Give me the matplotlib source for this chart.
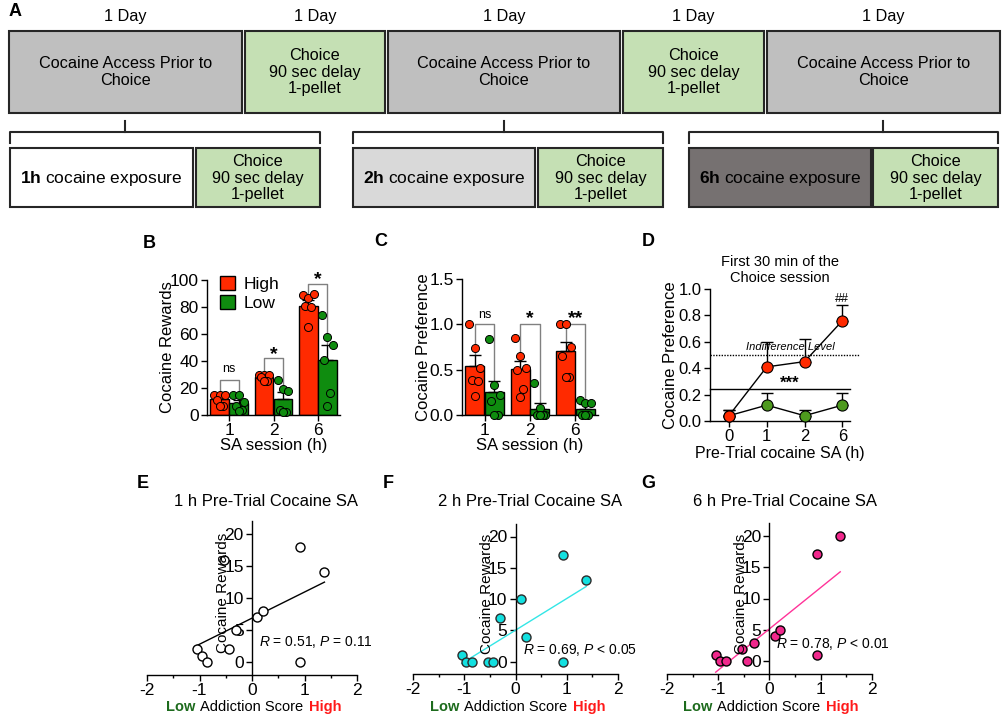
import numpy as np
import matplotlib.pyplot as plt
from matplotlib.patches import Rectangle, Patch
from matplotlib.ticker import MultipleLocator, FormatStrFormatter

plt.rcParams['font.family'] = ['Liberation Sans', 'DejaVu Sans']
plt.rcParams['mathtext.fontset'] = 'custom'
plt.rcParams['mathtext.rm'] = 'Liberation Sans'
plt.rcParams['mathtext.it'] = 'Liberation Sans:italic'
plt.rcParams['mathtext.bf'] = 'Liberation Sans:bold'
plt.rcParams['axes.unicode_minus'] = False
plt.rcParams['axes.linewidth'] = 1.0

RED = '#ff2a00'
GREEN = '#0f8c0f'
OLIVE = '#4e9a1e'
BOX_GRAY = '#bfbfbf'
BOX_GREEN = '#c5e0b4'
EDGE = '#262626'

# ---------------- data ----------------
# panel A: schedule
step_labels = ["Cocaine Access Prior to\nChoice", "Choice\n90 sec delay\n1-pellet",
               "Cocaine Access Prior to\nChoice", "Choice\n90 sec delay\n1-pellet",
               "Cocaine Access Prior to\nChoice"]
step_kind = ["access", "choice", "access", "choice", "access"]
step_duration = "1 Day"
exposure_hours = ["1h", "2h", "6h"]
exposure_fill = ["white", "#d9d9d9", "#767171"]
choice_label = "Choice\n90 sec delay\n1-pellet"

# panel B: cocaine rewards by SA session
sessions = ["1", "2", "6"]
rew_high_mean = [12, 28, 81]
rew_high_sem = [1.5, 1.2, 4.0]
rew_low_mean = [9, 12, 41]
rew_low_sem = [2.0, 5.0, 11.0]
rew_high_pts = [[15, 15, 15, 11, 7, 7], [30, 30, 30, 28, 25, 25], [89, 87, 90, 81, 80, 65]]
rew_low_pts = [[15, 15, 10, 7, 4, 3], [26, 19, 18, 4, 2, 2], [74, 58, 52, 41, 16, 7]]
rew_sig = ["ns", "*", "*"]
rew_sig_y = [26, 42, 97]

# panel C: cocaine preference by SA session
pref_high_mean = [0.54, 0.51, 0.71]
pref_high_sem = [0.12, 0.09, 0.10]
pref_low_mean = [0.25, 0.07, 0.07]
pref_low_sem = [0.12, 0.06, 0.05]
pref_high_pts = [[1.0, 0.735, 0.52, 0.39, 0.37, 0.21], [0.85, 0.65, 0.52, 0.5, 0.29, 0.2],
                 [1.0, 1.0, 0.75, 0.65, 0.42, 0.42]]
pref_low_pts = [[0.84, 0.33, 0.22, 0.15, 0.0, 0.0], [0.35, 0.08, 0.0, 0.0, 0.0, 0.0],
                [0.16, 0.13, 0.13, 0.0, 0.0, 0.0]]
pref_sig = ["ns", "*", "**"]
pref_sig_y = [1.0, 1.0, 1.0]

# panel D: first 30 min preference
pretrial_hours = ["0", "1", "2", "6"]
d_high = [0.04, 0.41, 0.45, 0.76]
d_high_sem = [0.04, 0.19, 0.17, 0.12]
d_low = [0.04, 0.12, 0.04, 0.12]
d_low_sem = [0.04, 0.09, 0.04, 0.09]
indifference = 0.5
group_line = 0.24

# panels E-G: correlations
addiction_score = [-1.05, -0.96, -0.85, -0.54, -0.43, -0.30, 0.10, 0.20, 0.92, 0.92, 1.38]
rewards_1h = [2, 1, 0, 16, 2, 5, 7, 8, 18, 0, 14]
rewards_2h = [1, 0, 0, 0, 0, 7, 10, 4, 17, 0, 13]
rewards_6h = [1, 0, 0, 2, 0, 3, 4, 5, 17, 1, 20]
corr_titles = ["1 h Pre-Trial Cocaine SA", "2 h Pre-Trial Cocaine SA", "6 h Pre-Trial Cocaine SA"]
corr_stats = [r"$\it{R}$ = 0.51, $\it{P}$ = 0.11", r"$\it{R}$ = 0.69, $\it{P}$ < 0.05",
              r"$\it{R}$ = 0.78, $\it{P}$ < 0.01"]

# ---------------- figure ----------------
W, H = 1004, 717
fig = plt.figure(figsize=(W / 100, H / 100), dpi=100)


def px_axes(x0, x1, y_top, y_bot):
    return fig.add_axes([x0 / W, 1 - y_bot / H, (x1 - x0) / W, (y_bot - y_top) / H])


ov = fig.add_axes([0, 0, 1, 1])
ov.set_xlim(0, W)
ov.set_ylim(H, 0)
ov.axis('off')

# panel letters
for lab, x, y in [("A", 15, 12), ("B", 149, 243), ("C", 381, 242), ("D", 648, 242),
                  ("E", 143, 484), ("F", 388, 484), ("G", 648, 484)]:
    ov.text(x, y, lab, fontsize=13, fontweight='bold', ha='center', va='center')

# ---- panel A ----
top_edges = [(9, 242), (245, 385), (388, 620), (623, 764), (767, 1000)]
for (x0, x1), lab, kind in zip(top_edges, step_labels, step_kind):
    fc = BOX_GRAY if kind == "access" else BOX_GREEN
    ov.add_patch(Rectangle((x0, 31), x1 - x0, 82, fc=fc, ec=EDGE, lw=1.5))
    ov.text((x0 + x1) / 2, 72, lab, ha='center', va='center', fontsize=11.7, linespacing=1.15)
    ov.text((x0 + x1) / 2, 17, step_duration, ha='center', va='center', fontsize=11.7)

access_centers = [(x0 + x1) / 2 for (x0, x1), k in zip(top_edges, step_kind) if k == "access"]
groups = [((10, 193), (196, 320)), ((353, 535), (538, 663)), ((689, 871), (873, 998))]
for (ex, ch), hrs, fill, xm in zip(groups, exposure_hours, exposure_fill, access_centers):
    ov.plot([ex[0], ex[0], ch[1], ch[1]], [143, 132, 132, 143], color=EDGE, lw=1.5,
            solid_joinstyle='round')
    ov.plot([xm, xm], [132, 121], color=EDGE, lw=1.5)
    ov.add_patch(Rectangle((ex[0], 148), ex[1] - ex[0], 59, fc=fill, ec=EDGE, lw=1.5))
    ov.add_patch(Rectangle((ch[0], 148), ch[1] - ch[0], 59, fc=BOX_GREEN, ec=EDGE, lw=1.5))
    ov.text((ex[0] + ex[1]) / 2, 178, r"$\bf{" + hrs + "}$ cocaine exposure",
            ha='center', va='center', fontsize=12.5)
    ov.text((ch[0] + ch[1]) / 2, 178, choice_label, ha='center', va='center',
            fontsize=11.7, linespacing=1.12)


# ---- panels B and C ----
jit = [-0.12, 0.0, 0.12, -0.07, 0.07, 0.0]
off, bw = 0.215, 0.42


def style_axes(ax, size=12.5):
    for s in ['top', 'right']:
        ax.spines[s].set_visible(False)
    ax.tick_params(direction='out', length=4, width=1, labelsize=size, pad=2)


def bar_panel(ax, hm, hs, hp, lm, ls, lp, sig, sig_y, ns_off, star_off):
    x = np.arange(len(sessions))
    for sign, m, s, pts, col in [(-1, hm, hs, hp, RED), (1, lm, ls, lp, GREEN)]:
        xs = x + sign * off
        ax.bar(xs, m, bw, color=col, edgecolor='k', lw=1, zorder=2)
        ax.errorbar(xs, m, yerr=[np.zeros(len(m)), s], fmt='none', ecolor='k',
                    elinewidth=1, capsize=4, capthick=1, zorder=3)
        for xi, p in zip(xs, pts):
            ax.plot(xi + np.array(jit[:len(p)]), p, 'o', ms=5.8, mfc=col, mec='k',
                    mew=0.7, zorder=4, clip_on=False)
    for i in range(len(x)):
        y0 = hm[i] + hs[i]
        y1 = lm[i] + ls[i]
        ax.plot([x[i] - off, x[i] - off, x[i] + off, x[i] + off], [y0, sig_y[i], sig_y[i], y1],
                color='#808080', lw=1, zorder=1.5)
        if sig[i] == "ns":
            ax.annotate("ns", (x[i], sig_y[i]), xytext=(0, ns_off), textcoords='offset points',
                        ha='center', va='center', fontsize=9)
        else:
            ax.annotate(sig[i], (x[i], sig_y[i]), xytext=(0, star_off), textcoords='offset points',
                        ha='center', va='center', fontsize=14, fontweight='bold')
    ax.set_xticks(x)
    ax.set_xticklabels(sessions)
    ax.set_xlim(-0.5, 2.5)
    ax.set_xlabel("SA session (h)", fontsize=12, labelpad=0)
    style_axes(ax)


axB = px_axes(207, 340, 280, 415)
bar_panel(axB, rew_high_mean, rew_high_sem, rew_high_pts, rew_low_mean, rew_low_sem,
          rew_low_pts, rew_sig, rew_sig_y, 8, 3)
axB.set_ylim(0, 100)
axB.set_yticks(range(0, 101, 20))
axB.set_ylabel("Cocaine Rewards", fontsize=12)
axB.yaxis.set_label_coords(-0.24, 0.5)
axB.legend([Patch(fc=RED, ec='k', lw=1), Patch(fc=GREEN, ec='k', lw=1)], ["High", "Low"],
           loc='upper left', bbox_to_anchor=(0.1, 1.03), frameon=False, borderaxespad=0,
           borderpad=0, handlelength=0.85, handleheight=0.85, handletextpad=0.5,
           labelspacing=0.2, fontsize=12.5)

axC = px_axes(462, 598, 279, 415)
bar_panel(axC, pref_high_mean, pref_high_sem, pref_high_pts, pref_low_mean, pref_low_sem,
          pref_low_pts, pref_sig, pref_sig_y, 7, 4)
axC.set_ylim(0, 1.5)
axC.set_yticks([0, 0.5, 1.0, 1.5])
axC.yaxis.set_major_formatter(FormatStrFormatter('%.1f'))
axC.set_ylabel("Cocaine Preference", fontsize=12)
axC.yaxis.set_label_coords(-0.23, 0.5)

# ---- panel D ----
axD = px_axes(710, 850, 289, 421)
xd = np.arange(len(pretrial_hours))
for m, s, col in [(d_low, d_low_sem, OLIVE), (d_high, d_high_sem, RED)]:
    axD.errorbar(xd, m, yerr=[np.zeros(len(m)), s], fmt='none', ecolor='k',
                 elinewidth=1, capsize=4, capthick=1, zorder=2)
    axD.plot(xd, m, '-', color='k', lw=1, zorder=3)
    axD.plot(xd, m, 'o', ms=8, mfc=col, mec='k', mew=0.8, zorder=4, clip_on=False)
axD.plot([-0.5, 3.47], [indifference, indifference], ls=(0, (1, 1)), color='k', lw=1,
         clip_on=False, zorder=1)
axD.text(1.62, 0.56, "Indifference Level", style='italic', fontsize=8, ha='center', va='center')
axD.plot([-0.5, 3.2], [group_line, group_line], color='k', lw=1, clip_on=False)
axD.text(1.6, 0.285, "***", fontsize=12, fontweight='bold', ha='center', va='center')
axD.text(3, 0.925, "##", fontsize=9, ha='center', va='center')
axD.set_xlim(-0.5, 3.2)
axD.set_ylim(0, 1.0)
axD.set_xticks(xd)
axD.set_xticklabels(pretrial_hours)
axD.set_yticks(np.arange(0, 1.01, 0.2))
axD.yaxis.set_major_formatter(FormatStrFormatter('%.1f'))
axD.set_ylabel("Cocaine Preference", fontsize=12)
axD.yaxis.set_label_coords(-0.23, 0.5)
axD.set_xlabel("Pre-Trial cocaine SA (h)", fontsize=11.5, labelpad=1)
style_axes(axD, 12)
ov.text(780, 270, "First 30 min of the\nChoice session", ha='center', va='center',
        fontsize=10.5, linespacing=1.1)

# ---- panels E-G ----
corr_axes = [px_axes(147, 357, 521, 675), px_axes(413, 618, 524, 674), px_axes(667, 872, 523, 674)]
corr_rewards = [rewards_1h, rewards_2h, rewards_6h]
corr_face = ['white', '#12e0e0', '#f0288c']
corr_edge = ['k', '#2b2b2b', 'k']
corr_line = ['k', '#33e6e6', '#ff3399']
stat_pos = [(0.13, 3.2), (0.14, 1.9), (0.13, 2.7)]
title_x = [266, 530, 785]
spine_px = [252, 516, 769]

for ax, yv, fc, ec, lc, st, sp, ttl, tx, sx in zip(corr_axes, corr_rewards, corr_face, corr_edge,
                                                   corr_line, corr_stats, stat_pos, corr_titles,
                                                   title_x, spine_px):
    coef = np.polyfit(addiction_score, yv, 1)
    xs = np.array([min(addiction_score), max(addiction_score)])
    ax.plot(xs, np.polyval(coef, xs), color=lc, lw=1, zorder=2)
    ax.plot(addiction_score, yv, 'o', ms=6.5, mfc=fc, mec=ec, mew=1, zorder=3, clip_on=False)
    ax.set_xlim(-2, 2)
    ax.set_ylim(-2, 22)
    ax.spines['left'].set_position(('data', 0))
    for s in ['top', 'right']:
        ax.spines[s].set_visible(False)
    ax.set_xticks([-2, -1, 0, 1, 2])
    ax.xaxis.set_minor_locator(MultipleLocator(0.5))
    ax.set_yticks([0, 5, 10, 15, 20])
    ax.tick_params(which='major', direction='out', length=4, width=1, labelsize=12.5, pad=2)
    ax.tick_params(which='minor', direction='out', length=2.5, width=1)
    ax.patch.set_alpha(0)
    ax.text(sp[0], sp[1], st, fontsize=10, ha='left', va='center')
    ax.text(-0.55, 10.8, "Cocaine Rewards", rotation=90, fontsize=11, ha='center', va='center')
    ov.text(tx, 502, ttl, ha='center', va='center', fontsize=12)
    ov.text(sx - 57, 707, "Low", color='#1d6b1d', fontweight='bold', ha='right', va='center',
            fontsize=10.5)
    ov.text(sx, 707, "Addiction Score", ha='center', va='center', fontsize=10.5)
    ov.text(sx + 57, 707, "High", color='#ff1a1a', fontweight='bold', ha='left', va='center',
            fontsize=10.5)

fig.savefig("out.png", dpi=100)
